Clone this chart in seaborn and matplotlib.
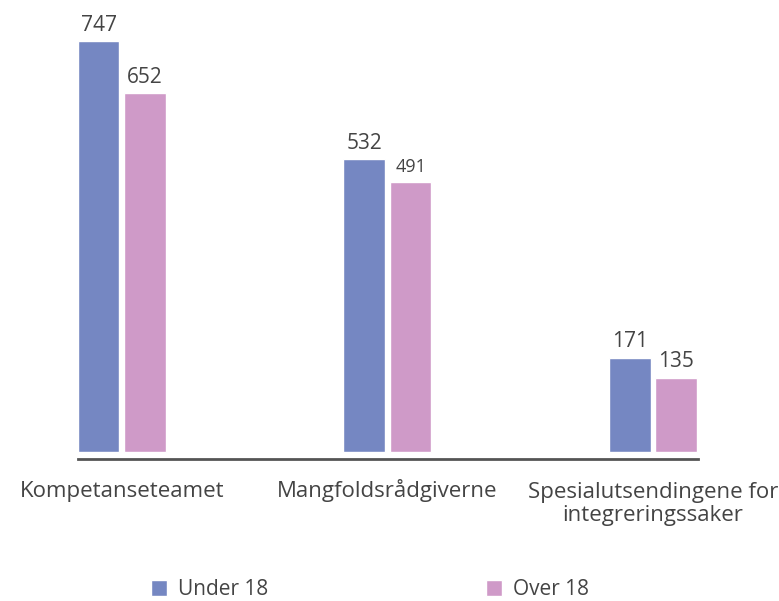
import seaborn as sns
import matplotlib.pyplot as plt
import matplotlib.transforms as mtransforms
import pandas as pd

kategorier = ['Kompetanseteamet', 'Mangfoldsrådgiverne', 'Spesialutsendingene for\nintegreringssaker']
under_18 = [747, 532, 171]
over_18 = [652, 491, 135]
serier = ['Under 18', 'Over 18']

df = pd.DataFrame({
    'kategori': kategorier * 2,
    'antall': under_18 + over_18,
    'gruppe': [serier[0]] * 3 + [serier[1]] * 3,
})

sns.set_style('white')
plt.rcParams['font.family'] = ['Open Sans', 'DejaVu Sans']
tekst = '#444444'

fig = plt.figure(figsize=(7.79, 6.01), dpi=100)
ax = fig.add_axes([78 / 779, (601 - 459) / 601, 620 / 779, 459 / 601])

sns.barplot(data=df, x='kategori', y='antall', hue='gruppe', ax=ax,
            palette=['#7587c2', '#cf9ac8'], width=0.35, gap=0.1,
            saturation=1, legend=True)

ax.set_xlim(-0.165, 2.17)
ax.set_ylim(-13, 822)

# verdier over stolpene
for cont in ax.containers:
    labels = ax.bar_label(cont, padding=4, fontsize=15, color=tekst)
    for t in labels:
        if t.get_text() == '491':
            t.set_fontsize(13)

for s in ['top', 'right', 'left']:
    ax.spines[s].set_visible(False)
ax.spines['bottom'].set_color('#555555')
ax.spines['bottom'].set_linewidth(2)

ax.set_yticks([])
ax.set_xlabel('')
ax.set_ylabel('')
ax.tick_params(axis='x', length=0, pad=27, labelsize=16, labelcolor=tekst)
# alle etiketter på samme grunnlinje (første linje)
for t in ax.get_xticklabels():
    t.set_va('baseline')
    t.set_linespacing(1.15)
    if '\n' in t.get_text():
        t.set_transform(t.get_transform() +
                        mtransforms.ScaledTranslation(0, -17.6 / 72, fig.dpi_scale_trans))

ax.legend(loc='center', bbox_to_anchor=(0.471, -0.285), ncol=2, frameon=False,
          fontsize=15, handlelength=0.75, handleheight=0.75, columnspacing=10.45,
          handletextpad=0.55, labelcolor=tekst)

fig.savefig('out.png', dpi=100)
